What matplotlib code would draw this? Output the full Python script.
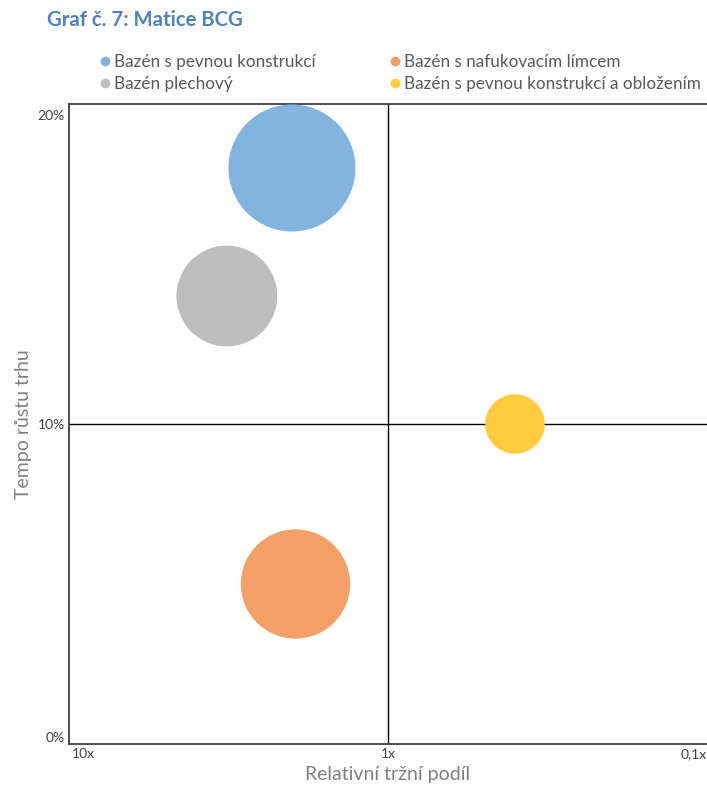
import matplotlib.pyplot as plt
from matplotlib.lines import Line2D
from matplotlib.transforms import ScaledTranslation

# BCG matrix data
names = ['Bazén s pevnou konstrukcí', 'Bazén plechový',
         'Bazén s nafukovacím límcem', 'Bazén s pevnou konstrukcí a obložením']
share = [2.0, 3.2, 1.95, 0.4]        # relative market share (x)
growth = [0.18, 0.14, 0.05, 0.10]    # market growth rate (y)
sales = [100, 63, 74, 22]            # bubble size
colors = ['#82B4E0', '#BDBDBD', '#F2A066', '#FFCC3F']

x_ticks = [10, 1, 0.1]
x_labels = ['10x', '1x', '0,1x']
y_ticks = [0, 0.1, 0.2]
y_labels = ['0%', '10%', '20%']

plt.rcParams['font.family'] = ['Lato', 'DejaVu Sans']

W, H = 707, 787
fig = plt.figure(figsize=(W / 100, H / 100), dpi=100)
ax = fig.add_axes([69 / W, 43 / H, 638 / W, 640 / H])

# bubble area proportional to sales, largest ~63 px radius
max_d = 2 * 63.5 * 0.72
sizes = [v / max(sales) * max_d ** 2 for v in sales]
ax.scatter(share, growth, s=sizes, c=colors, linewidths=0, zorder=3, clip_on=False)

ax.set_xscale('log')
ax.set_xlim(10, 0.1)
ax.set_ylim(0, 0.2)
ax.axvline(1, color='black', lw=1, zorder=2)
ax.axhline(0.1, color='black', lw=1, zorder=2)

for s in ['left', 'bottom', 'top']:
    ax.spines[s].set_color('#404040')
    ax.spines[s].set_linewidth(1.3)
ax.spines['right'].set_visible(False)

ax.set_xticks(x_ticks)
ax.set_xticklabels(x_labels)
ax.minorticks_off()
ax.set_yticks(y_ticks)
ax.set_yticklabels(y_labels)
ax.tick_params(length=0, labelsize=10, labelcolor='#404040', pad=3)

# nudge edge tick labels inward like the original
xl = ax.get_xticklabels()
xl[0].set_ha('left')
xl[0].set_transform(xl[0].get_transform() + ScaledTranslation(2 / 72, 0, fig.dpi_scale_trans))
xl[-1].set_ha('right')
yl = ax.get_yticklabels()
yl[0].set_va('bottom')
yl[-1].set_va('top')
yl[-1].set_transform(yl[-1].get_transform() + ScaledTranslation(0, -4 / 72, fig.dpi_scale_trans))

ax.set_xlabel('Relativní tržní podíl', fontsize=14, color='#808080', labelpad=4)
ax.set_ylabel('Tempo růstu trhu', fontsize=14, color='#808080', labelpad=4)

fig.text(47 / W, 1 - 20 / H, 'Graf č. 7: Matice BCG', fontsize=14.6, fontweight='bold',
         color='#4F81BD', va='center', ha='left')

handles = [Line2D([], [], marker='o', ls='', color=c, markersize=6) for c in colors]
leg_kw = dict(loc='upper left', frameon=False, fontsize=12.3, handletextpad=0.05,
              labelspacing=0.35, borderaxespad=0, borderpad=0, handlelength=1,
              labelcolor='#595959')
fig.legend(handles[:2], names[:2], bbox_to_anchor=(96 / W, 1 - 54 / H), **leg_kw)
fig.legend(handles[2:], names[2:], bbox_to_anchor=(386 / W, 1 - 54 / H), **leg_kw)

fig.savefig('out.png', dpi=100)
